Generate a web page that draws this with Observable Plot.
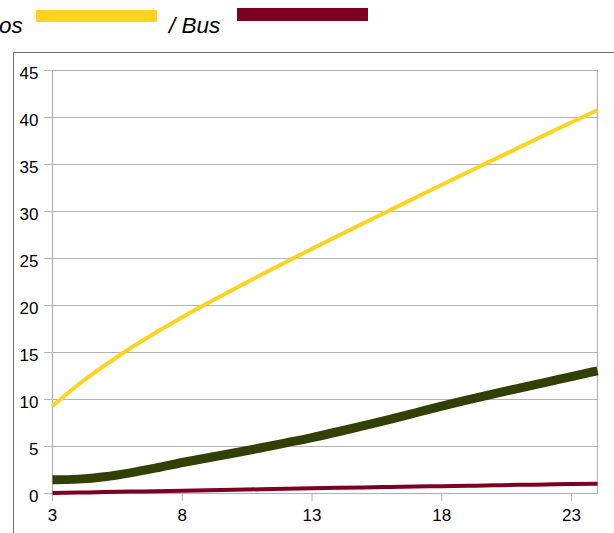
<!DOCTYPE html>
<html>
<head>
<meta charset="utf-8">
<script src="https://cdn.jsdelivr.net/npm/d3@7"></script>
<script src="https://cdn.jsdelivr.net/npm/@observablehq/plot@0.6"></script>
<style>
  html, body { margin: 0; padding: 0; background: #fff; width: 614px; height: 533px; overflow: hidden; }
  #wrap { position: relative; width: 614px; height: 533px; }
  #chart { position: absolute; left: 0; top: 0; }
  #frame { position: absolute; left: 13px; top: 52px; width: 620px; height: 500px;
           border-left: 1.5px solid #6f6f6f; border-top: 1.5px solid #6f6f6f; box-sizing: border-box; }
  .lg { position: absolute; font-family: "Liberation Sans", Arial, sans-serif; font-style: italic;
        font-size: 22.5px; color: #000; white-space: nowrap; line-height: 1; }
  .sw { position: absolute; }
</style>
</head>
<body>
<div id="wrap">
  <div id="frame"></div>
  <div id="chart"></div>
</div>
<script>
const xValues = [3, 4, 5, 6, 7, 8, 9, 10, 11, 12, 13, 14, 15, 16, 17, 18, 19, 20, 21, 22, 23, 24];
const autos = [9.3, 11.6, 13.6, 15.45, 17.15, 18.75, 20.28, 21.76, 23.21, 24.63, 26.03, 27.41, 28.78, 30.14, 31.49, 32.84, 34.18, 35.52, 36.85, 38.18, 39.5, 40.8];
const total = [1.45, 1.53, 1.78, 2.2, 2.72, 3.3, 3.8, 4.31, 4.84, 5.39, 5.95, 6.57, 7.22, 7.89, 8.59, 9.3, 9.96, 10.6, 11.22, 11.83, 12.44, 13.05];
const bus = [0.05, 0.1, 0.15, 0.2, 0.25, 0.3, 0.35, 0.4, 0.45, 0.5, 0.55, 0.6, 0.65, 0.7, 0.74, 0.78, 0.82, 0.87, 0.92, 0.96, 1.0, 1.05];
const xTicks = [3, 8, 13, 18, 23];
const yTicks = [0, 5, 10, 15, 20, 25, 30, 35, 40, 45];
const legendLabels = ["os", "/ Bus"];
const colors = { autos: "#ffd320", total: "#314004", bus: "#7e0021" };
const gridColor = "#b3b3b3";

const toRows = (vals) => xValues.map((x, i) => ({ x, y: vals[i] }));
const lineOpts = { x: "x", y: "y", curve: "monotone-x", strokeLinecap: "butt", strokeLinejoin: "round" };

const chart = Plot.plot({
  width: 614,
  height: 533,
  marginLeft: 52,
  marginRight: 17,
  marginTop: 70,
  marginBottom: 40,
  style: { fontFamily: "Liberation Sans, Arial, sans-serif", fontSize: "17px", color: "#000", background: "transparent", overflow: "visible" },
  x: { domain: [3, 24] },
  y: { domain: [0, 45] },
  marks: [
    Plot.gridY(yTicks, { stroke: gridColor, strokeOpacity: 1 }),
    Plot.frame({ stroke: gridColor, strokeWidth: 1.2 }),
    Plot.axisY(yTicks, { text: null, tickSize: 8, stroke: gridColor, strokeOpacity: 1, label: null }),
    Plot.axisY(yTicks, { tickSize: 0, tickPadding: 14, dy: 3, fill: "#000", label: null }),
    Plot.axisX(xTicks, { text: null, tickSize: 8, stroke: gridColor, strokeOpacity: 1, label: null }),
    Plot.axisX(xTicks, { tickSize: 0, tickPadding: 15, fill: "#000", label: null }),
    Plot.line(toRows(bus), { ...lineOpts, stroke: colors.bus, strokeWidth: 4 }),
    Plot.line(toRows(total), { ...lineOpts, stroke: colors.total, strokeWidth: 9 }),
    Plot.line(toRows(autos), { ...lineOpts, stroke: colors.autos, strokeWidth: 4 })
  ]
});
document.getElementById("chart").appendChild(chart);

const wrap = document.getElementById("wrap");
function addText(txt, left, top) {
  const d = document.createElement("div");
  d.className = "lg"; d.textContent = txt;
  d.style.left = left + "px"; d.style.top = top + "px";
  wrap.appendChild(d);
}
function addSwatch(color, left, top, w, h) {
  const d = document.createElement("div");
  d.className = "sw"; d.style.background = color;
  d.style.left = left + "px"; d.style.top = top + "px";
  d.style.width = w + "px"; d.style.height = h + "px";
  wrap.appendChild(d);
}
addText(legendLabels[0], -1, 15);
addSwatch(colors.autos, 36, 10, 121, 12);
addText(legendLabels[1], 169, 15);
addSwatch(colors.bus, 237, 8, 131, 13);
</script>
</body>
</html>
